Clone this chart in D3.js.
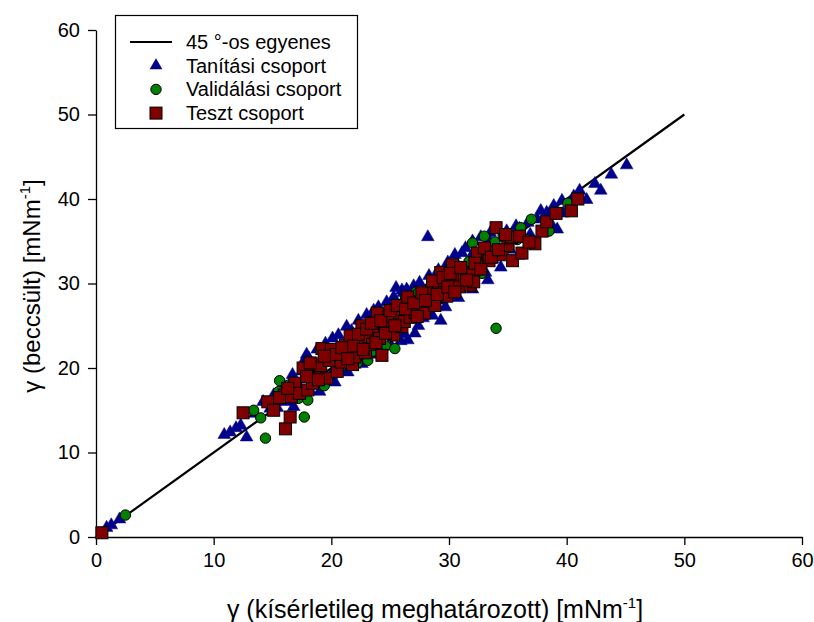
<!DOCTYPE html>
<html>
<head>
<meta charset="utf-8">
<script src="https://cdn.jsdelivr.net/npm/d3@7"></script>
<style>
  body { margin: 0; background: #fff; }
  text { font-family: "Liberation Sans", Arial, sans-serif; fill: #000; }
</style>
</head>
<body>
<svg id="chart" width="814" height="622"></svg>
<script>
// tick values shared by both axes
var tickValues = [0, 10, 20, 30, 40, 50, 60];

var legendLabels = ["45 °-os egyenes", "Tanítási csoport", "Validálási csoport", "Teszt csoport"];

// 45 degree reference line end points
var lineX = [0, 50];

// training set (triangles) [measured, predicted]
var trainData = [
  [0.9,1.1],[1.3,1.4],[2.0,2.1],
  [10.9,12.1],[11.4,12.4],[11.9,12.9],[12.3,13.2],[12.8,11.8],
  [13.5,14.6],[14.2,16.0],[14.8,15.2],[15.4,15.3],[15.1,16.8],[15.8,17.4],[16.2,16.0],[16.7,19.2],
  [16.8,15.4],[17.2,18.0],[17.5,19.6],[17.7,20.9],[18.1,21.1],[18.2,17.3],[18.6,19.0],[18.9,20.3],
  [19.3,18.4],[19.6,21.5],[20.1,23.5],[20.0,19.2],[20.4,20.9],[20.8,22.0],[21.0,19.8],[21.3,24.9],
  [21.6,21.0],[21.9,23.2],[22.2,21.4],[22.5,24.4],[22.8,22.1],[23.1,25.2],[23.4,22.6],[23.7,23.9],
  [24.0,27.2],[24.2,22.9],[24.6,25.8],[24.9,24.0],[25.2,26.9],[25.5,29.5],[25.9,23.2],[26.0,29.2],
  [26.4,29.3],[26.5,23.3],[26.5,29.0],[26.8,26.2],[27.1,24.1],[27.3,27.8],[27.5,30.1],[27.8,25.9],
  [28.2,35.5],[28.4,28.6],[28.7,30.4],[29.0,27.3],[29.3,25.6],[29.5,30.2],[29.8,31.5],[30.1,28.6],
  [30.4,30.9],[30.7,32.3],[31.1,33.6],[31.0,29.6],[31.5,31.0],[31.8,33.0],[32.1,30.4],[32.4,32.6],
  [32.8,34.0],[33.1,31.3],[33.4,35.1],[33.7,32.9],[34.0,34.3],[34.4,31.9],[34.9,36.2],[35.2,34.0],
  [35.7,36.8],[35.9,33.3],[36.3,35.4],[36.7,37.2],[37.1,35.0],[37.5,37.6],[37.9,36.0],[38.3,38.4],
  [38.7,37.0],[39.2,36.4],[39.7,38.3],[39.6,39.8],[40.2,38.9],[40.6,40.3],[41.1,41.0],[41.7,39.9],
  [42.4,41.8],[42.9,41.0],[43.8,42.9],[45.1,44.0],
  [16.0,17.9],[17.0,16.9],[18.4,18.8],[19.1,20.6],[19.9,21.8],[20.6,19.9],[21.2,22.8],[22.0,20.4],
  [22.7,23.6],[23.3,24.1],[23.9,21.9],[24.4,26.3],[25.0,25.1],[25.7,24.6],[26.2,27.3],[26.9,28.4],
  [27.6,27.0],[28.1,26.3],[28.9,29.4],[29.4,28.0],[30.2,31.6],[30.9,30.3],[31.6,32.1],[32.3,33.4],
  [33.0,33.0],[33.8,33.7],[34.6,35.4],[35.4,35.5],[36.0,36.5],[36.9,35.8],[37.8,38.6],[38.9,39.2],
  [17.9,21.6],[18.8,22.2],[19.5,22.9],[20.6,23.9],[21.7,24.4],[22.3,25.6],[23.0,26.3],[23.6,26.8],
  [24.7,27.8],[25.3,28.4],[26.1,28.9],[27.0,29.7],[28.3,30.9],[29.1,31.6],[29.9,32.5],[30.5,33.4],
  [31.4,34.2],[32.0,35.0],[32.7,35.5],[33.5,36.0],
  [19.0,17.2],[20.3,18.3],[21.4,19.5],[22.6,20.5],[23.8,21.6],[25.1,22.6],[26.2,24.0],[27.4,25.0],
  [28.6,26.2],[29.7,27.2],[30.8,28.3],[32.0,29.3],[33.3,30.4]
];

// validation set (circles)
var validData = [
  [2.5,2.6],[13.4,15.0],[14.0,14.1],[14.4,11.7],[15.5,17.2],[15.6,18.5],[16.4,18.0],[17.2,16.4],
  [17.7,14.2],[18.0,16.2],[18.8,19.4],[19.4,17.9],[20.3,21.2],[20.9,20.3],[21.5,22.6],[22.2,20.6],
  [22.9,23.8],[23.1,20.9],[23.6,22.0],[24.2,24.9],[24.6,22.6],[25.4,22.3],[25.8,25.3],[26.3,28.1],
  [26.3,28.3],[27.2,29.0],[27.4,28.9],[27.9,27.2],[28.6,29.9],[29.2,28.3],[29.9,30.1],[30.4,29.5],
  [31.3,31.6],[31.7,32.6],[32.0,34.8],[32.5,32.3],[32.8,31.2],[33.0,35.6],[33.9,34.9],[34.1,33.6],
  [34.0,24.7],[35.1,34.3],[35.8,35.2],[36.6,35.2],[37.0,37.6],[38.5,36.2],[40.1,39.5],
  [19.0,20.7],[21.2,21.9],[23.3,23.1],[24.9,25.8],[26.8,26.9],[28.2,29.3],[29.6,31.0],[31.0,30.6],
  [33.6,33.4],[36.1,36.6],[34.6,35.7],[30.8,31.7]
];

// test set (squares)
var testData = [
  [0.5,0.5],[12.5,14.7],[14.6,16.0],[15.1,15.0],[16.0,16.8],[16.1,12.8],[16.5,14.2],[16.6,16.6],
  [16.9,18.2],[17.3,17.0],[17.6,20.0],[18.0,17.4],[18.4,18.2],[18.7,19.5],[19.0,20.1],[19.1,20.3],
  [19.2,22.3],[19.6,18.8],[20.2,21.0],[20.5,19.6],[20.8,20.7],[21.0,21.7],[21.2,22.7],[21.6,23.8],
  [21.8,20.4],[22.0,21.3],[22.4,22.9],[22.6,25.0],[22.9,21.8],[23.2,23.7],[23.5,22.8],[23.5,24.7],
  [23.9,26.5],[24.1,23.5],[24.3,21.5],[24.5,25.3],[24.8,24.7],[24.9,26.1],[25.3,23.9],[25.8,26.5],
  [26.0,24.9],[26.2,25.5],[26.7,27.2],[26.7,26.0],[27.1,26.6],[27.6,27.8],[27.9,26.5],[28.3,28.1],
  [28.5,29.2],[28.8,27.4],[29.1,29.7],[29.3,31.3],[29.6,28.9],[29.8,28.5],[30.3,32.2],[30.6,30.5],
  [30.9,29.6],[31.3,30.9],[31.8,29.8],[32.0,31.1],[32.1,30.2],[32.4,33.6],[33.3,33.7],[33.4,32.7],
  [34.0,36.6],[34.5,33.4],[35.0,34.5],[35.3,35.4],[35.3,35.5],[35.4,32.7],[36.2,33.6],[37.3,34.7],
  [37.9,36.2],[38.3,37.3],[39.1,38.3],[40.4,38.6],[40.95,40.0],
  [19.8,20.9],[20.0,22.2],[20.4,21.6],[20.9,22.4],[21.4,21.1],[21.9,22.6],[22.3,24.0],[22.7,22.2],
  [23.0,24.6],[23.4,25.3],[23.8,23.0],[24.2,25.6],[24.6,24.1],[25.0,26.8],[25.4,25.0],[25.6,27.4],
  [26.3,27.0],[26.5,28.4],[27.0,27.7],[27.3,26.1],[27.7,28.9],[28.0,28.0],[28.6,30.3],[29.0,28.7],
  [29.5,30.7],[29.9,29.6],[30.1,31.2],[30.5,29.0],[31.0,31.9],[31.5,30.4],[32.2,32.4],[32.7,31.7],
  [33.0,34.2],[33.6,33.1],[34.2,34.0],[34.8,35.8],[36.0,35.6],[36.8,34.9],[17.9,19.0],[18.2,20.6],
  [18.9,18.6],[19.4,21.4],[15.6,16.5],[16.3,17.6]
];

var margin = {top: 30, right: 12, bottom: 85, left: 96}
  , width = 814
  , height = 622;

var svg = d3.select("#chart");

var x = d3.scaleLinear()
    .domain([0, 60])
    .range([margin.left, width - margin.right]);

var y = d3.scaleLinear()
    .domain([0, 60])
    .range([height - margin.bottom, margin.top]);

var xAxis = svg.append("g")
    .attr("transform", "translate(0," + (height - margin.bottom) + ")")
    .call(d3.axisBottom(x).tickValues(tickValues).tickSize(8).tickSizeOuter(0).tickPadding(8));

var yAxis = svg.append("g")
    .attr("transform", "translate(" + margin.left + ",0)")
    .call(d3.axisLeft(y).tickValues(tickValues).tickSize(8).tickSizeOuter(0).tickPadding(8));

svg.selectAll(".domain, .tick line")
    .attr("stroke", "#000")
    .attr("stroke-width", 1.3);

svg.selectAll(".tick text")
    .style("font-family", "Liberation Sans, Arial, sans-serif")
    .style("font-size", "20px");

// 45 degree line
svg.append("line")
    .attr("x1", x(lineX[0]))
    .attr("y1", y(lineX[0]))
    .attr("x2", x(lineX[1]))
    .attr("y2", y(lineX[1]))
    .attr("stroke", "#000")
    .attr("stroke-width", 2.2);

var tri = d3.symbol().type(d3.symbolTriangle).size(70);

svg.append("g").selectAll("path")
    .data(trainData)
  .enter().append("path")
    .attr("d", tri)
    .attr("transform", function(d) { return "translate(" + x(d[0]) + "," + y(d[1]) + ")"; })
    .attr("fill", "#00008b")
    .attr("stroke", "#00008b")
    .attr("stroke-width", 0.5);

svg.append("g").selectAll("circle")
    .data(validData)
  .enter().append("circle")
    .attr("cx", function(d) { return x(d[0]); })
    .attr("cy", function(d) { return y(d[1]); })
    .attr("r", 5.2)
    .attr("fill", "#008000")
    .attr("stroke", "#000")
    .attr("stroke-width", 1);

svg.append("g").selectAll("rect")
    .data(testData)
  .enter().append("rect")
    .attr("x", function(d) { return x(d[0]) - 6; })
    .attr("y", function(d) { return y(d[1]) - 6; })
    .attr("width", 12)
    .attr("height", 12)
    .attr("fill", "#800000")
    .attr("stroke", "#000")
    .attr("stroke-width", 1);

// legend
var legend = svg.append("g");

legend.append("rect")
    .attr("x", 115.5)
    .attr("y", 15.5)
    .attr("width", 242)
    .attr("height", 113)
    .attr("fill", "#fff")
    .attr("stroke", "#000")
    .attr("stroke-width", 1.2);

var rowY = function(i) { return 42 + i * 23.7; };

legend.append("line")
    .attr("x1", 130).attr("x2", 172)
    .attr("y1", rowY(0)).attr("y2", rowY(0))
    .attr("stroke", "#000")
    .attr("stroke-width", 2.2);

legend.append("path")
    .attr("d", tri)
    .attr("transform", "translate(156," + rowY(1) + ")")
    .attr("fill", "#00008b");

legend.append("circle")
    .attr("cx", 156).attr("cy", rowY(2))
    .attr("r", 5.2)
    .attr("fill", "#008000")
    .attr("stroke", "#000");

legend.append("rect")
    .attr("x", 150).attr("y", rowY(3) - 6)
    .attr("width", 12).attr("height", 12)
    .attr("fill", "#800000")
    .attr("stroke", "#000");

legend.selectAll("text")
    .data(legendLabels)
  .enter().append("text")
    .attr("x", 186)
    .attr("y", function(d, i) { return rowY(i); })
    .attr("dy", "0.35em")
    .style("font-size", "20px")
    .text(function(d) { return d; });

// axis titles
var xTitle = svg.append("text")
    .attr("x", 435)
    .attr("y", 618)
    .style("text-anchor", "middle")
    .style("font-size", "25px");
xTitle.append("tspan").text("γ (kísérletileg meghatározott) [mNm");
xTitle.append("tspan").attr("dy", -10).style("font-size", "15px").text("-1");
xTitle.append("tspan").attr("dy", 10).text("]");

var yTitle = svg.append("text")
    .attr("transform", "translate(40,286) rotate(-90)")
    .style("text-anchor", "middle")
    .style("font-size", "24px");
yTitle.append("tspan").text("γ (beccsült) [mNm");
yTitle.append("tspan").attr("dy", -10).style("font-size", "15px").text("-1");
yTitle.append("tspan").attr("dy", 10).text("]");
</script>
</body>
</html>
